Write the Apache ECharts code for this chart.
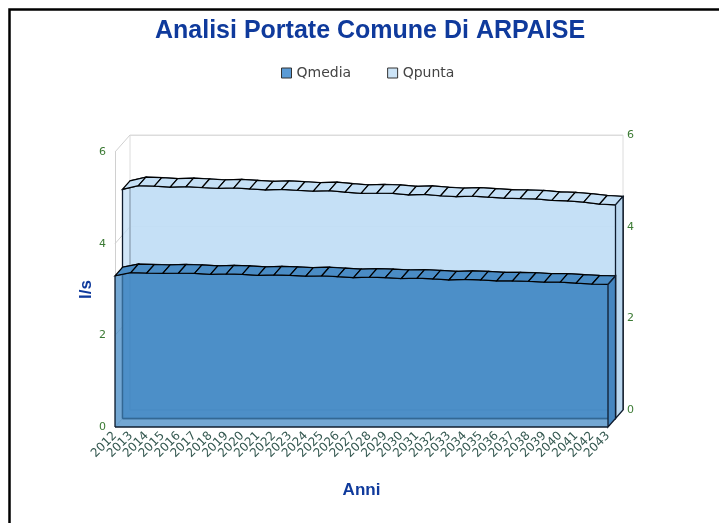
<!DOCTYPE html>
<html>
<head>
<meta charset="utf-8">
<script src="https://cdn.jsdelivr.net/npm/echarts@6/dist/echarts.min.js"></script>
<style>
  html, body { margin: 0; padding: 0; background: #fff; }
  #chart { width: 719px; height: 523px; }
</style>
</head>
<body>
<div id="chart"></div>
<script>
const years = ['2012', '2013', '2014', '2015', '2016', '2017', '2018', '2019', '2020', '2021',
  '2022', '2023', '2024', '2025', '2026', '2027', '2028', '2029', '2030', '2031', '2032',
  '2033', '2034', '2035', '2036', '2037', '2038', '2039', '2040', '2041', '2042', '2043']
const qmedia = [3.30, 3.37, 3.36, 3.35, 3.36, 3.35, 3.33, 3.34, 3.33, 3.31, 3.32, 3.31, 3.29,
  3.30, 3.28, 3.26, 3.27, 3.26, 3.24, 3.25, 3.23, 3.21, 3.22, 3.21, 3.19, 3.19, 3.18, 3.16,
  3.16, 3.14, 3.12, 3.11]
const qpunta = [5.00, 5.08, 5.07, 5.05, 5.06, 5.04, 5.02, 5.03, 5.01, 4.99, 5.00, 4.98, 4.96,
  4.97, 4.94, 4.91, 4.92, 4.91, 4.88, 4.89, 4.86, 4.84, 4.85, 4.83, 4.81, 4.80, 4.79, 4.76,
  4.75, 4.72, 4.68, 4.66]
const yTicks = [0, 2, 4, 6]

// 3D look: each series is a slab one layer deep
const DX = 7.5
const DY = -8.5
const base = { left: 115, right: 111, top: 152, bottom: 96 }
const FONT = 'DejaVu Sans'

const chart = echarts.init(document.getElementById('chart'))

function gridAt(k) {
  return {
    left: base.left + k * DX,
    right: base.right - k * DX,
    top: base.top + k * DY,
    bottom: base.bottom - k * DY
  }
}

function off(pt, k) {
  return [pt[0] + k * DX, pt[1] + k * DY]
}

function edge(a, b, color, w) {
  return { type: 'polyline', shape: { points: [a, b] }, style: { stroke: color || '#0f1c2e', lineWidth: w || 1.3, fill: null } }
}

function segData(arr) {
  return arr.map((v, i) => [i, v, i < arr.length - 1 ? arr[i + 1] : v])
}

// top strip, outer edges and right side of a slab
function slabFront(arr, k, topColor, sideColor) {
  const n = arr.length
  return function (params, api) {
    const i = api.value(0)
    const p = api.coord([i, api.value(1)])
    const b = api.coord([i, 0])
    const children = []
    if (i < n - 1) {
      const q = api.coord([i + 1, api.value(2)])
      children.push({
        type: 'polygon',
        shape: { points: [off(p, k), off(q, k), off(q, k + 1), off(p, k + 1)] },
        style: { fill: topColor, stroke: '#000', lineWidth: 1.2 }
      })
    }
    if (i === 0) {
      children.push(edge(off(p, k), off(b, k)))
      children.push(edge(off(b, k), off(api.coord([n - 1, 0]), k)))
    }
    if (i === n - 1) {
      children.push({
        type: 'polygon',
        shape: { points: [off(p, k), off(p, k + 1), off(b, k + 1), off(b, k)] },
        style: { fill: sideColor, stroke: '#0f1c2e', lineWidth: 1.3 }
      })
    }
    return { type: 'group', children }
  }
}

// hidden edges of the back face, seen through the front
function slabBack(arr, k) {
  const n = arr.length
  return function (params, api) {
    const i = api.value(0)
    const p = api.coord([i, api.value(1)])
    const b = api.coord([i, 0])
    const children = []
    if (i === 0) {
      children.push(edge(off(p, k + 1), off(b, k + 1), '#000', 1.4))
      children.push(edge(off(b, k + 1), off(api.coord([n - 1, 0]), k + 1), '#000', 1.4))
    }
    if (i === n - 1) {
      children.push(edge(off(p, k + 1), off(b, k + 1), '#000', 1.4))
    }
    return { type: 'group', children }
  }
}

function face(name, arr, gridIdx, color, z) {
  return {
    name: name,
    type: 'line',
    z: z,
    xAxisIndex: gridIdx,
    yAxisIndex: gridIdx,
    data: arr,
    showSymbol: false,
    silent: true,
    itemStyle: { color: color },
    lineStyle: { color: '#0f1c2e', width: 1.3 },
    areaStyle: { color: color, opacity: 0.75 }
  }
}

const C_MEDIA = '#4489c4'
const C_PUNTA = '#c1def5'

const option = {
  animation: false,
  graphic: [{
    type: 'rect',
    shape: { x: 9.5, y: 9.5, width: 760, height: 560 },
    style: { fill: null, stroke: '#000', lineWidth: 2.5 }
  }],
  title: {
    text: 'Analisi Portate Comune Di ARPAISE',
    left: 150,
    top: 14,
    textStyle: { fontFamily: 'Liberation Sans', fontSize: 25, fontWeight: 'bold', color: '#0f3a9c' }
  },
  legend: {
    top: 61,
    left: 276,
    itemWidth: 10,
    itemHeight: 10,
    itemGap: 36,
    textStyle: { fontFamily: FONT, fontSize: 14, color: '#444' },
    data: [
      { name: 'Qmedia', icon: 'rect', itemStyle: { color: '#5b9bd5', borderColor: '#333', borderWidth: 1 } },
      { name: 'Qpunta', icon: 'rect', itemStyle: { color: '#cce4f7', borderColor: '#333', borderWidth: 1 } }
    ]
  },
  grid: [gridAt(0), gridAt(1), Object.assign(gridAt(2), { show: true, borderColor: '#dcdcdc', borderWidth: 1 })],
  xAxis: [0, 1, 2].map(k => ({
    type: 'category',
    gridIndex: k,
    data: years,
    boundaryGap: false,
    show: k === 0,
    name: k === 0 ? 'Anni' : '',
    nameLocation: 'middle',
    nameGap: 55,
    nameTextStyle: { fontFamily: 'Liberation Sans', fontSize: 17, fontWeight: 'bold', color: '#0f3a9c' },
    axisLine: { show: false },
    axisTick: { show: false },
    splitLine: { show: false },
    axisLabel: { interval: 0, rotate: 45, margin: 7, fontFamily: FONT, fontSize: 12, color: '#33574f' }
  })),
  yAxis: [0, 1, 2].map(k => ({
    type: 'value',
    gridIndex: k,
    min: 0,
    max: 6,
    interval: 2,
    show: k !== 1,
    position: k === 2 ? 'right' : 'left',
    name: k === 0 ? 'l/s' : '',
    nameLocation: 'middle',
    nameRotate: 90,
    nameGap: 20,
    nameMoveOverlap: false,
    nameTextStyle: { fontFamily: 'Liberation Sans', fontSize: 17, fontWeight: 'bold', color: '#0f3a9c' },
    axisLine: { show: k === 0, lineStyle: { color: '#d0d0d0' } },
    axisTick: { show: false },
    splitLine: { show: k === 2, lineStyle: { color: '#dcdcdc' } },
    axisLabel: { margin: k === 2 ? 4 : 9, fontFamily: FONT, fontSize: 11, color: '#3b7a34' }
  })),
  series: [
    {
      type: 'custom',
      z: 1,
      xAxisIndex: 0,
      yAxisIndex: 0,
      silent: true,
      data: yTicks.map(v => [0, v]),
      renderItem: function (params, api) {
        const p = api.coord([api.value(0), api.value(1)])
        return edge(p, off(p, 2), '#d0d0d0', 1)
      }
    },
    face('Qpunta back', qpunta, 2, C_PUNTA, 2),
    { type: 'custom', z: 3, silent: true, data: segData(qpunta), renderItem: slabBack(qpunta, 1) },
    face('Qpunta', qpunta, 1, C_PUNTA, 4),
    { type: 'custom', z: 5, silent: true, data: segData(qpunta), renderItem: slabFront(qpunta, 1, '#c5e0f6', '#bad7ef') },
    face('Qmedia back', qmedia, 1, C_MEDIA, 6),
    { type: 'custom', z: 7, silent: true, data: segData(qmedia), renderItem: slabBack(qmedia, 0) },
    face('Qmedia', qmedia, 0, C_MEDIA, 8),
    { type: 'custom', z: 9, silent: true, data: segData(qmedia), renderItem: slabFront(qmedia, 0, '#4a8cc5', '#4686c0') }
  ]
}

chart.setOption(option)
</script>
</body>
</html>
